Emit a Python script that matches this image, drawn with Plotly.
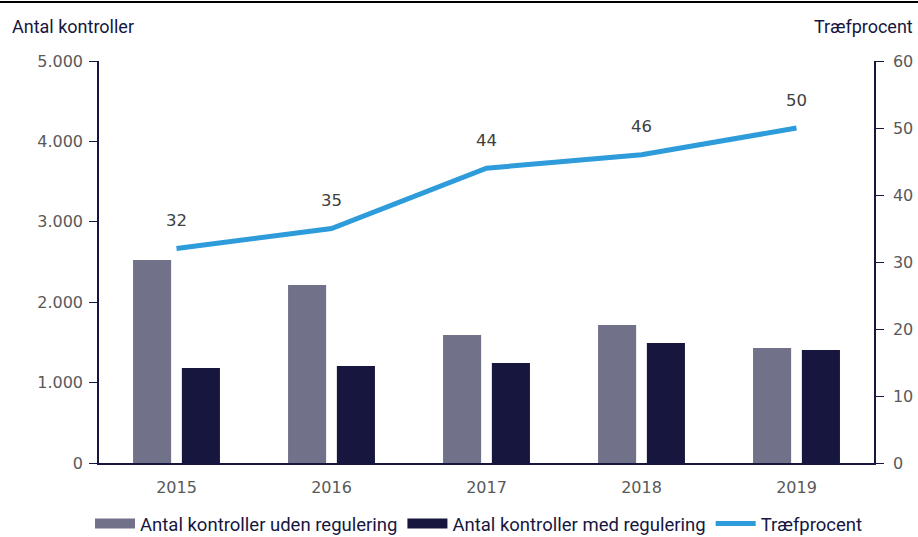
import plotly.graph_objects as go

years = ["2015", "2016", "2017", "2018", "2019"]
uden = [2525, 2214, 1592, 1716, 1430]
med = [1182, 1206, 1244, 1493, 1405]
traef = [32, 35, 44, 46, 50]

TFONT = "Roboto, sans-serif"
NFONT = "DejaVu Sans, sans-serif"
NAVY = "#16163F"
GREY = "#71718A"
BLUE = "#2E9BDA"
TICK = "#595959"

fig = go.Figure()
fig.add_trace(go.Bar(x=years, y=uden, name="Antal kontroller uden regulering",
                     marker=dict(color=GREY, line=dict(width=0)), showlegend=False))
fig.add_trace(go.Bar(x=years, y=med, name="Antal kontroller med regulering",
                     marker=dict(color=NAVY, line=dict(width=0)), showlegend=False))
fig.add_trace(go.Scatter(x=years, y=traef, name="Træfprocent", yaxis="y2",
                         mode="lines", line=dict(color=BLUE, width=5), showlegend=False))

# legend entries (wide swatches like the reference)
fig.add_trace(go.Scatter(x=[None], y=[None], mode="lines", name="Antal kontroller uden regulering",
                         line=dict(color=GREY, width=10)))
fig.add_trace(go.Scatter(x=[None], y=[None], mode="lines", name="Antal kontroller med regulering",
                         line=dict(color=NAVY, width=10)))
fig.add_trace(go.Scatter(x=[None], y=[None], mode="lines", name="Træfprocent",
                         line=dict(color=BLUE, width=5)))

for i, yv in enumerate(traef):
    fig.add_annotation(x=i, y=yv, xref="x", yref="y2", text=str(yv), showarrow=False,
                       yshift=28, font=dict(family=NFONT, size=16.5, color="#404040"))

PW, PH = 775, 402
fig.add_annotation(x=-89 / PW, y=1 + (61 - 26) / PH, xref="paper", yref="paper",
                   text="Antal kontroller", showarrow=False, xanchor="left", yanchor="middle",
                   font=dict(family=TFONT, size=18, color=NAVY))
fig.add_annotation(x=1 + 41 / PW, y=1 + (61 - 26) / PH, xref="paper", yref="paper",
                   text="Træfprocent", showarrow=False, xanchor="right", yanchor="middle",
                   font=dict(family=TFONT, size=18, color=NAVY))

fig.update_layout(
    width=918, height=537,
    margin=dict(l=99, r=44, t=61, b=74, autoexpand=False),
    paper_bgcolor="white", plot_bgcolor="white",
    separators=",.",
    font=dict(family=NFONT, size=16, color=TICK),
    barmode="group", bargap=0.37, bargroupgap=0.22,
    showlegend=True,
    legend=dict(orientation="h", x=(479 - 99) / PW, xanchor="center",
                y=-(524 - 463) / PH, yanchor="middle", itemwidth=40,
                font=dict(family=TFONT, size=18.5, color=NAVY), traceorder="normal"),
    xaxis=dict(type="category", range=[-0.5, len(years) - 0.5], showline=True,
               linecolor=NAVY, linewidth=2, ticks="outside", ticklen=9,
               tickcolor="rgba(0,0,0,0)",
               tickfont=dict(family=NFONT, size=16, color=TICK), showgrid=False),
    yaxis=dict(range=[0, 5000], dtick=1000, tickformat=",.0f", showline=True,
               linecolor=NAVY, linewidth=1.5, ticks="outside", ticklen=8,
               tickcolor=NAVY, showgrid=False, zeroline=False, ticklabelstandoff=3,
               tickfont=dict(family=NFONT, size=16, color=TICK)),
    yaxis2=dict(range=[0, 60], dtick=10, overlaying="y", side="right",
                showline=True, linecolor=NAVY, linewidth=1.5, ticks="outside",
                ticklen=8, tickcolor=NAVY, showgrid=False, zeroline=False,
                ticklabelstandoff=6,
                tickfont=dict(family=NFONT, size=16, color=TICK)),
    shapes=[dict(type="line", xref="paper", yref="paper", x0=-0.2, x1=1.1,
                 y0=1 + 59 / PH, y1=1 + 59 / PH, line=dict(color="black", width=2))],
)

fig.write_html("out.html", config={"displayModeBar": False},
               post_script="document.body.style.margin='0';")
